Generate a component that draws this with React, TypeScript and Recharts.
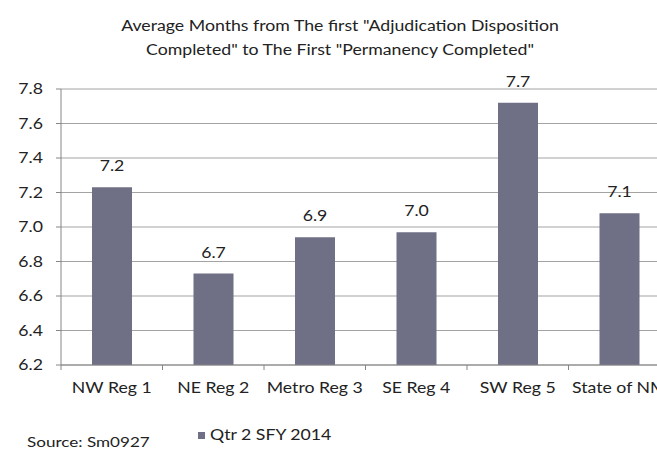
import React from "react";
import { BarChart, Bar, XAxis, YAxis, CartesianGrid, LabelList } from "recharts";

const categories = ["NW Reg 1", "NE Reg 2", "Metro Reg 3", "SE Reg 4", "SW Reg 5", "State of NM"];
const qtr2Values = [7.23, 6.73, 6.94, 6.97, 7.72, 7.08];
const yTicks = [6.2, 6.4, 6.6, 6.8, 7.0, 7.2, 7.4, 7.6, 7.8];
const seriesName = "Qtr 2 SFY 2014";
const titleLines = [
  'Average Months from The first "Adjudication Disposition',
  'Completed" to The First "Permanency Completed"',
];
const sourceText = "Source: Sm0927";

const data = categories.map((c, i) => ({ name: c, value: qtr2Values[i] }));

const FONT = "Lato, 'Open Sans', sans-serif";
const FS = 14.5;
const SX = 1.22;
const BAR_COLOR = "#6f6f86";
const TEXT = "#222222";
const AXIS = "#868686";
const BAND = 609 / 6;

const XTick = (props: any) => {
  const { x, y, payload } = props;
  const axisY = y - 8;
  return (
    <g>
      <line x1={x - BAND / 2} x2={x - BAND / 2} y1={axisY} y2={axisY + 5} stroke={AXIS} />
      <text
        transform={`translate(${x},${axisY + 28}) scale(${SX},1)`}
        textAnchor="middle"
        fontSize={FS}
        fontFamily={FONT}
        fill={TEXT}
      >
        {payload.value}
      </text>
    </g>
  );
};

const YTick = (props: any) => {
  const { x, y, payload } = props;
  return (
    <text
      transform={`translate(${x},${y + 5}) scale(${SX},1)`}
      textAnchor="end"
      fontSize={FS}
      fontFamily={FONT}
      fill={TEXT}
    >
      {Number(payload.value).toFixed(1)}
    </text>
  );
};

const ValueLabel = (props: any) => {
  const { x, y, width, value } = props;
  return (
    <text
      transform={`translate(${Number(x) + Number(width) / 2},${Number(y) - 16}) scale(${SX},1)`}
      textAnchor="middle"
      fontSize={FS}
      fontFamily={FONT}
      fill={TEXT}
    >
      {Number(value).toFixed(1)}
    </text>
  );
};

export default function App() {
  return (
    <div
      style={{
        position: "absolute",
        left: 0,
        top: 0,
        width: 657,
        height: 449,
        overflow: "hidden",
        background: "#fff",
        fontFamily: FONT,
        color: TEXT,
      }}
    >
      <div
        style={{
          position: "absolute",
          left: 0,
          top: 13.5,
          width: 680,
          textAlign: "center",
          fontSize: FS,
          lineHeight: "24px",
          transform: `scaleX(${SX})`,
          transformOrigin: "340px 0",
          whiteSpace: "nowrap",
        }}
      >
        {titleLines.map((t) => (
          <div key={t}>{t}</div>
        ))}
      </div>
      <BarChart
        width={680}
        height={449}
        data={data}
        margin={{ top: 89, right: 10, left: 0, bottom: 54 }}
      >
        <CartesianGrid vertical={false} stroke="#a3a3a3" />
        <XAxis
          dataKey="name"
          height={30}
          tickLine={false}
          tickSize={6}
          tickMargin={2}
          axisLine={{ stroke: AXIS }}
          tick={<XTick />}
          interval={0}
        />
        <YAxis
          width={61}
          domain={[6.2, 7.8]}
          ticks={yTicks}
          tickSize={5}
          tickMargin={13}
          axisLine={{ stroke: AXIS }}
          tickLine={{ stroke: AXIS }}
          tick={<YTick />}
          allowDataOverflow
        />
        <Bar dataKey="value" name={seriesName} fill={BAR_COLOR} barSize={40} isAnimationActive={false}>
          <LabelList dataKey="value" content={<ValueLabel />} />
        </Bar>
      </BarChart>
      <div
        style={{
          position: "absolute",
          left: 27,
          top: 434,
          fontSize: 14,
          lineHeight: "15px",
          whiteSpace: "nowrap",
          transform: `scaleX(${SX})`,
          transformOrigin: "0 0",
        }}
      >
        {sourceText}
      </div>
      <div
        style={{
          position: "absolute",
          left: 198,
          top: 432,
          width: 7,
          height: 7,
          background: BAR_COLOR,
        }}
      />
      <div
        style={{
          position: "absolute",
          left: 210,
          top: 427,
          fontSize: FS,
          lineHeight: "15px",
          whiteSpace: "nowrap",
          transform: `scaleX(${SX})`,
          transformOrigin: "0 0",
        }}
      >
        {seriesName}
      </div>
    </div>
  );
}
